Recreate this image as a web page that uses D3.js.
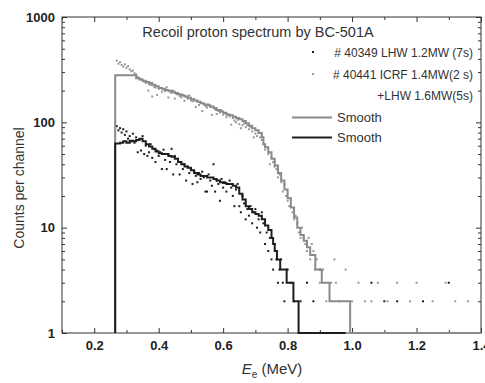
<!DOCTYPE html>
<html>
<head>
<meta charset="utf-8">
<script src="https://cdn.jsdelivr.net/npm/d3@7"></script>
<style>
  body { margin: 0; background: #fff; }
  svg { display: block; font-family: "Liberation Sans", Arial, sans-serif; }
  .tick text { font-weight: bold; font-size: 13px; fill: #222; }
  .axis path { display: none; }
  .tick line { stroke: #333; }
</style>
</head>
<body>
<div id="root"></div>
<script>
// smoothed spectra, step form: [E (MeV), counts]
const smoothIcrf = [[0.265,280],[0.33,262],[0.34,255],[0.35,248],[0.36,242],[0.37,236],[0.38,228],[0.39,220],[0.40,212],[0.41,208],[0.42,203],[0.43,200],[0.44,195],[0.45,190],[0.46,185],[0.47,180],[0.48,176],[0.49,171],[0.50,166],[0.51,161],[0.52,157],[0.53,152],[0.54,148],[0.55,145],[0.56,141],[0.57,137],[0.58,131],[0.59,127],[0.60,123],[0.61,119],[0.62,117],[0.63,113],[0.64,110],[0.65,107],[0.66,103],[0.67,98],[0.68,93],[0.69,88],[0.70,84],[0.71,79],[0.72,72],[0.725,62],[0.73,58],[0.74,52],[0.75,45],[0.76,39],[0.77,33],[0.78,28],[0.79,23],[0.80,19],[0.81,15.5],[0.82,12.5],[0.83,10],[0.84,8.5],[0.85,7.5],[0.86,6.5],[0.87,5.5],[0.886,4],[0.906,3],[0.93,2],[0.994,1],[1.40,1]];
const smoothLhw = [[0.265,63],[0.28,64],[0.29,66],[0.30,64],[0.31,67],[0.32,66],[0.33,68],[0.34,70],[0.35,66],[0.36,62],[0.37,59],[0.38,56],[0.39,53],[0.40,51],[0.41,50],[0.42,50],[0.43,48],[0.44,47],[0.45,45],[0.46,42],[0.47,40],[0.48,38],[0.49,37],[0.50,35],[0.51,33],[0.52,32],[0.53,31],[0.54,31],[0.55,30],[0.56,30],[0.57,29],[0.58,28],[0.59,27],[0.60,26.5],[0.61,26],[0.62,26],[0.63,25],[0.64,24],[0.65,21],[0.66,18.5],[0.67,16],[0.68,15],[0.69,14],[0.70,13.5],[0.71,13],[0.72,12],[0.73,10.5],[0.74,9.5],[0.75,8],[0.755,7],[0.76,6],[0.767,5],[0.777,4],[0.797,3],[0.818,2],[0.834,1],[0.98,1]];

// raw channel counts
const pointsIcrf = [[0.270,385],[0.275,360],[0.280,372],[0.285,350],[0.290,338],[0.295,355],[0.300,330],[0.305,342],[0.310,318],[0.315,305],[0.320,310],[0.325,292],[0.330,285],[0.335,270],[0.340,262],[0.345,258],[0.350,250],[0.355,244],[0.360,236],[0.365,240],[0.368,200],[0.370,230],[0.375,226],[0.380,176],[0.385,218],[0.390,214],[0.395,182],[0.400,208],[0.405,212],[0.410,195],[0.415,205],[0.420,198],[0.425,215],[0.430,172],[0.435,195],[0.440,190],[0.445,200],[0.450,168],[0.455,185],[0.460,190],[0.465,178],[0.470,172],[0.475,182],[0.480,160],[0.485,176],[0.490,168],[0.495,180],[0.500,162],[0.505,158],[0.510,165],[0.515,140],[0.520,158],[0.525,146],[0.530,155],[0.535,128],[0.540,150],[0.545,142],[0.550,138],[0.555,148],[0.560,140],[0.565,118],[0.570,138],[0.575,132],[0.580,120],[0.585,128],[0.590,124],[0.595,130],[0.600,118],[0.605,122],[0.610,112],[0.615,118],[0.620,114],[0.625,95],[0.630,110],[0.635,104],[0.640,100],[0.645,106],[0.650,96],[0.655,88],[0.660,94],[0.665,98],[0.670,90],[0.675,94],[0.680,86],[0.685,90],[0.690,82],[0.695,72],[0.700,78],[0.705,74],[0.710,80],[0.715,72],[0.720,68],[0.725,62],[0.730,55],[0.735,58],[0.740,50],[0.745,40],[0.750,46],[0.755,42],[0.760,38],[0.765,36],[0.770,30],[0.775,32],[0.780,27],[0.785,22],[0.790,26],[0.795,20],[0.800,18],[0.805,16],[0.810,19],[0.815,14],[0.820,12],[0.825,13],[0.830,11],[0.835,9],[0.840,8],[0.845,10],[0.850,8],[0.855,7],[0.860,6],[0.865,8],[0.870,5],[0.875,7],[0.880,6],[0.885,4],[0.890,5],[0.900,3],[0.910,4],[0.920,2],[0.935,3],[0.945,5],[0.950,3],[0.960,2],[0.980,4],[1.000,2],[1.020,3],[1.040,2],[1.060,2],[1.080,3],[1.110,2],[1.140,3],[1.180,2],[1.200,3],[1.250,2],[1.290,3],[1.320,2],[1.360,2]];
const pointsLhw = [[0.270,92],[0.275,84],[0.280,88],[0.285,80],[0.290,86],[0.295,76],[0.300,82],[0.305,70],[0.310,74],[0.315,66],[0.320,78],[0.325,64],[0.330,72],[0.335,52],[0.340,68],[0.345,54],[0.350,74],[0.355,50],[0.360,60],[0.365,48],[0.370,52],[0.375,62],[0.380,46],[0.385,56],[0.390,42],[0.395,54],[0.400,48],[0.405,52],[0.410,36],[0.415,55],[0.420,44],[0.425,36],[0.430,50],[0.435,42],[0.440,56],[0.445,32],[0.450,48],[0.455,40],[0.460,44],[0.465,32],[0.470,42],[0.475,36],[0.480,40],[0.485,28],[0.490,38],[0.495,33],[0.500,36],[0.505,26],[0.510,34],[0.515,31],[0.520,27],[0.525,33],[0.530,29],[0.535,34],[0.540,30],[0.545,22],[0.550,22],[0.555,32],[0.560,28],[0.565,25],[0.570,40],[0.575,22],[0.580,28],[0.585,26],[0.590,18],[0.595,29],[0.600,24],[0.605,27],[0.610,22],[0.615,26],[0.620,28],[0.625,24],[0.630,20],[0.635,16],[0.640,23],[0.645,26],[0.650,16],[0.655,14],[0.660,20],[0.665,17],[0.670,12],[0.675,15],[0.680,13],[0.685,16],[0.690,11],[0.695,14],[0.700,15],[0.705,10],[0.710,12],[0.715,9],[0.720,14],[0.725,11],[0.730,7],[0.735,9],[0.740,6],[0.745,8],[0.750,5],[0.755,4],[0.760,7],[0.765,5],[0.770,3],[0.775,4],[0.780,5],[0.785,3],[0.790,2],[0.800,4],[0.810,3],[0.820,2],[0.840,2],[0.860,3],[0.880,2],[0.900,4],[1.060,3],[1.100,2],[1.140,2],[1.220,2],[1.300,3]];

const xTicks = [0.2, 0.4, 0.6, 0.8, 1.0, 1.2, 1.4];
const xMinor = [0.1, 0.3, 0.5, 0.7, 0.9, 1.1, 1.3];
const yTicks = [1, 10, 100, 1000];
const legendLabels = ["# 40349 LHW 1.2MW (7s)", "# 40441 ICRF 1.4MW(2 s)", "+LHW 1.6MW(5s)"];

const width = 485, height = 383;
const margin = { top: 17, right: 4, bottom: 50, left: 62 };
const innerW = width - margin.left - margin.right;
const innerH = height - margin.top - margin.bottom;

const GRAY = "#8a8a8a", GRAY_DOT = "#9a9a9a", BLACK = "#1e1e1e";

const svg = d3.select("#root").append("svg").attr("width", width).attr("height", height);
const g = svg.append("g").attr("transform", `translate(${margin.left},${margin.top})`);

const x = d3.scaleLinear().domain([0.1, 1.4]).range([0, innerW]);
const y = d3.scaleLog().domain([1, 1000]).range([innerH, 0]);

const yMinor = [];
yTicks.slice(0, -1).forEach(t => { for (let k = 2; k <= 9; k++) yMinor.push(t * k); });

// axes, ticks inward
g.append("g").attr("class", "axis").attr("transform", `translate(0,${innerH})`)
    .call(d3.axisBottom(x).tickValues(xTicks).tickSize(-5).tickPadding(8).tickFormat(d3.format(".1f")));
g.append("g").attr("class", "axis").attr("transform", `translate(0,${innerH})`)
    .call(d3.axisBottom(x).tickValues(xMinor).tickSize(-3).tickFormat(""));
g.append("g").attr("class", "axis")
    .call(d3.axisTop(x).tickValues(xTicks).tickSize(-5).tickFormat(""));
g.append("g").attr("class", "axis")
    .call(d3.axisTop(x).tickValues(xMinor).tickSize(-3).tickFormat(""));

g.append("g").attr("class", "axis")
    .call(d3.axisLeft(y).tickValues(yTicks).tickSize(-5).tickPadding(7).tickFormat(d3.format("d")));
g.append("g").attr("class", "axis")
    .call(d3.axisLeft(y).tickValues(yMinor).tickSize(-3).tickFormat(""));
g.append("g").attr("class", "axis").attr("transform", `translate(${innerW},0)`)
    .call(d3.axisRight(y).tickValues(yTicks).tickSize(-5).tickFormat(""));
g.append("g").attr("class", "axis").attr("transform", `translate(${innerW},0)`)
    .call(d3.axisRight(y).tickValues(yMinor).tickSize(-3).tickFormat(""));

g.append("rect").attr("width", innerW).attr("height", innerH)
    .attr("fill", "none").attr("stroke", "#333").attr("stroke-width", 1);

// scatter
g.append("g").selectAll("rect").data(pointsIcrf).join("rect")
    .attr("x", d => x(d[0]) - 1).attr("y", d => y(d[1]) - 1)
    .attr("width", 2).attr("height", 2).attr("fill", GRAY_DOT);
g.append("g").selectAll("rect").data(pointsLhw).join("rect")
    .attr("x", d => x(d[0]) - 1).attr("y", d => y(d[1]) - 1)
    .attr("width", 2).attr("height", 2).attr("fill", BLACK);

// smooth step lines
const line = d3.line().x(d => x(d[0])).y(d => y(d[1])).curve(d3.curveStepAfter);
g.append("path").datum([[smoothIcrf[0][0], 1], ...smoothIcrf])
    .attr("d", line).attr("fill", "none").attr("stroke", GRAY).attr("stroke-width", 2);
g.append("path").datum([[smoothLhw[0][0], 1], ...smoothLhw])
    .attr("d", line).attr("fill", "none").attr("stroke", BLACK).attr("stroke-width", 2);

// title
svg.append("text").attr("x", 258).attr("y", 37).attr("text-anchor", "middle")
    .attr("font-size", 14.5).attr("fill", "#333").text("Recoil proton spectrum by BC-501A");

// legend
const leg = svg.append("g").attr("font-size", 12).attr("fill", "#333");
leg.append("rect").attr("x", 312).attr("y", 51).attr("width", 2).attr("height", 2).attr("fill", BLACK);
leg.append("rect").attr("x", 312).attr("y", 73).attr("width", 2).attr("height", 2).attr("fill", GRAY_DOT);
legendLabels.forEach((t, i) => {
    leg.append("text").attr("x", 473).attr("y", 57 + i * 21.5).attr("text-anchor", "end").text(t);
});
leg.append("line").attr("x1", 292).attr("x2", 332).attr("y1", 117.5).attr("y2", 117.5)
    .attr("stroke", GRAY).attr("stroke-width", 2);
leg.append("line").attr("x1", 292).attr("x2", 332).attr("y1", 137.5).attr("y2", 137.5)
    .attr("stroke", BLACK).attr("stroke-width", 2);
leg.append("text").attr("x", 337).attr("y", 122).attr("font-size", 13).text("Smooth");
leg.append("text").attr("x", 337).attr("y", 142).attr("font-size", 13).text("Smooth");

// axis titles
svg.append("text").attr("transform", "translate(24,188) rotate(-90)").attr("text-anchor", "middle")
    .attr("font-size", 14).attr("fill", "#333").text("Counts per channel");
const xt = svg.append("text").attr("x", 272).attr("y", 374).attr("text-anchor", "middle")
    .attr("font-size", 15).attr("fill", "#333");
xt.append("tspan").attr("font-style", "italic").text("E");
xt.append("tspan").attr("font-size", 10).attr("dy", 4).text("e");
xt.append("tspan").attr("dy", -4).text(" (MeV)");
</script>
</body>
</html>
